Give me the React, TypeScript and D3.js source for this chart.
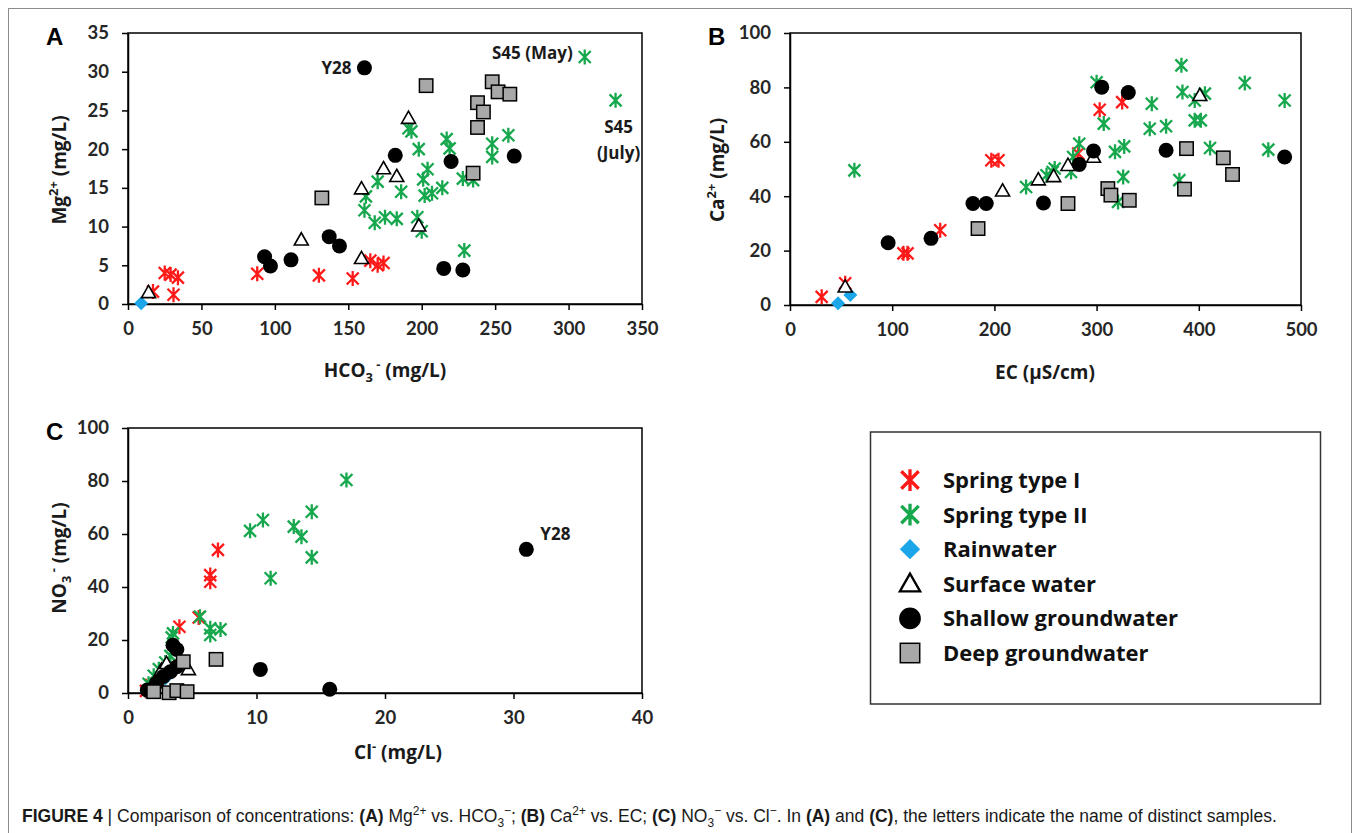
import React, { useEffect, useRef } from "react";
import * as d3 from "d3";

// ---- Panel A: HCO3- (x) vs Mg2+ (y), mg/L ----
const aSpringI = [[17, 1.6], [25, 4.0], [29, 3.8], [34, 3.4], [31, 1.2], [88, 3.9], [130, 3.7], [153, 3.3], [165, 5.6], [170, 5.0], [174, 5.3]];
const aSpringII = [[311, 31.9], [332, 26.3], [191, 22.7], [193, 22.3], [198, 20.0], [217, 21.3], [219, 20.1], [248, 20.7], [248, 19.0], [259, 21.8], [204, 17.4], [201, 16.1], [202, 14.0], [207, 14.3], [214, 15.0], [186, 14.5], [170, 15.8], [162, 13.9], [161, 12.1], [228, 16.2], [235, 16.0], [229, 6.9], [168, 10.5], [175, 11.2], [183, 11.0], [197, 11.2], [200, 9.4]];
const aRain = [[9, 0.1]];
const aSurface = [[14, 1.5], [118, 8.3], [159, 5.9], [159, 14.9], [174, 17.5], [183, 16.5], [191, 24.0], [198, 10.1]];
const aShallow = [[161, 30.5], [93, 6.1], [97, 4.9], [111, 5.7], [137, 8.7], [144, 7.5], [182, 19.2], [220, 18.4], [263, 19.1], [215, 4.6], [228, 4.4]];
const aDeep = [[132, 13.7], [203, 28.2], [248, 28.7], [252, 27.4], [260, 27.1], [238, 26.0], [242, 24.8], [238, 22.8], [235, 16.9]];

// ---- Panel B: EC (x) vs Ca2+ (y) ----
const bSpringI = [[31, 3.0], [54, 8.0], [111, 19.0], [115, 19.0], [147, 27.5], [197, 53.2], [204, 53.2], [282, 55.7], [303, 71.8], [325, 74.6]];
const bSpringII = [[63, 49.5], [231, 43.4], [251, 47.7], [257, 48.9], [259, 50.2], [275, 48.9], [277, 54.4], [283, 59.3], [300, 81.9], [307, 66.7], [318, 56.3], [327, 58.3], [321, 37.9], [326, 47.1], [354, 74.0], [352, 64.8], [368, 65.7], [383, 88.1], [384, 78.3], [396, 75.2], [406, 77.7], [396, 67.9], [402, 67.9], [445, 81.6], [484, 75.2], [411, 57.7], [468, 57.1], [381, 45.9]];
const bRain = [[47, 0.6], [59, 3.7]];
const bSurface = [[54, 6.7], [208, 42.0], [243, 46.1], [258, 47.3], [272, 51.4], [297, 54.4], [401, 77.1]];
const bShallow = [[96, 22.9], [138, 24.5], [179, 37.3], [192, 37.3], [248, 37.5], [283, 51.7], [297, 56.6], [305, 80.1], [331, 78.1], [368, 56.9], [484, 54.4]];
const bDeep = [[184, 28.1], [272, 37.3], [311, 42.8], [314, 40.4], [332, 38.5], [388, 57.5], [424, 54.1], [433, 48.0], [386, 42.6]];

// ---- Panel C: Cl- (x) vs NO3- (y) ----
const cSpringI = [[7.0, 54.0], [6.4, 44.5], [6.4, 42.0], [4.0, 25.0], [5.5, 28.5], [1.4, 0.8], [1.8, 3.0]];
const cSpringII = [[17.0, 80.4], [10.5, 65.3], [9.5, 61.2], [12.9, 62.8], [13.5, 59.0], [14.3, 68.4], [14.3, 51.2], [11.1, 43.3], [5.6, 28.8], [6.4, 24.4], [7.2, 24.0], [6.4, 21.9], [3.5, 22.5], [1.6, 3.5], [2.0, 6.5], [2.4, 9.0], [2.9, 11.5], [3.3, 14.0], [3.4, 21.0]];
const cRain = [[1.5, 0.3], [2.9, 5.5]];
const cSurface = [[2.2, 5.0], [2.6, 8.7], [3.0, 11.2], [4.7, 8.9]];
const cShallow = [[31.0, 54.2], [3.5, 18.0], [3.8, 16.4], [10.3, 8.9], [15.7, 1.4], [1.5, 1.1], [2.2, 3.7], [2.75, 6.2], [3.3, 8.0], [3.8, 9.9]];
const cDeep = [[4.3, 11.8], [6.85, 12.7], [2.0, 0.5], [3.2, 0.1], [3.8, 0.9], [4.6, 0.5]];

const seriesNames = ["Spring type I", "Spring type II", "Rainwater", "Surface water", "Shallow groundwater", "Deep groundwater"];

const FONT = "Lato, 'Open Sans', sans-serif";
const TFONT = "'Open Sans', Lato, sans-serif";

const App = () => {
  const ref = useRef<SVGSVGElement>(null);

  useEffect(() => {
    const svg = d3.select(ref.current);
    svg.selectAll("*").remove();

    const kinds = ["star", "star", "diamond", "triangle", "circle", "square"];
    const colors = ["#ff1a1a", "#17a84e", "#1aa6e8", "#ffffff", "#000000", "#a8a8a8"];

    const marker = (g, kind, color, cx, cy, s) => {
      if (kind === "star") {
        const a = 6 * s, h = 7.5 * s;
        g.append("path")
          .attr("d", `M${cx},${cy - h}V${cy + h}M${cx - a},${cy - a}L${cx + a},${cy + a}M${cx - a},${cy + a}L${cx + a},${cy - a}`)
          .attr("stroke", color).attr("stroke-width", 2.3 * s).attr("fill", "none");
      } else if (kind === "diamond") {
        const r = 7 * s;
        g.append("path").attr("d", `M${cx},${cy - r}L${cx + r},${cy}L${cx},${cy + r}L${cx - r},${cy}Z`).attr("fill", color);
      } else if (kind === "triangle") {
        const r = 7 * s;
        g.append("path").attr("d", `M${cx},${cy - r}L${cx + r},${cy + 0.75 * r}L${cx - r},${cy + 0.75 * r}Z`)
          .attr("fill", "#fff").attr("stroke", "#000").attr("stroke-width", 1.6 * s);
      } else if (kind === "circle") {
        g.append("circle").attr("cx", cx).attr("cy", cy).attr("r", 7.5 * s).attr("fill", color);
      } else {
        const r = 6.7 * s;
        g.append("rect").attr("x", cx - r).attr("y", cy - r).attr("width", 2 * r).attr("height", 2 * r)
          .attr("fill", color).attr("stroke", "#000").attr("stroke-width", 1.5);
      }
    };

    // text with sub/superscripts
    const rich = (parent, segs, x, y, size, weight, family) => {
      const t = parent.append("text").attr("x", x).attr("y", y).attr("font-size", size)
        .attr("font-family", family).attr("font-weight", weight).attr("fill", "#1a1a1a")
        .style("white-space", "pre");
      let cur = 0;
      segs.forEach((s) => {
        const target = s.sup ? -0.4 * size : s.sub ? 0.25 * size : 0;
        const sp = t.append("tspan").text(s.t).attr("dy", target - cur);
        if (s.sup || s.sub) sp.attr("font-size", size * 0.68);
        if (s.b) sp.attr("font-weight", "bold");
        cur = target;
      });
      return t;
    };

    // outer figure frame
    svg.append("rect").attr("x", 8.5).attr("y", 8.5).attr("width", 1343).attr("height", 860)
      .attr("fill", "none").attr("stroke", "#8c8c8c").attr("stroke-width", 1);

    const panels = [
      { label: "A", left: 128, right: 642, top: 33, bottom: 304, xMax: 350, xStep: 50, yMax: 35, yStep: 5,
        series: [aSpringI, aSpringII, aRain, aSurface, aShallow, aDeep],
        xTitle: [{ t: "HCO" }, { t: "3", sub: true }, { t: " -", sup: true }, { t: " (mg/L)" }], xTitleX: 385, xTitleY: 377,
        yTitle: [{ t: "Mg" }, { t: "2+", sup: true }, { t: " (mg/L)" }], yTitleX: 66, yTitleY: 170 },
      { label: "B", left: 790, right: 1301, top: 33, bottom: 305, xMax: 500, xStep: 100, yMax: 100, yStep: 20,
        series: [bSpringI, bSpringII, bRain, bSurface, bShallow, bDeep],
        xTitle: [{ t: "EC (µS/cm)" }], xTitleX: 1045, xTitleY: 379,
        yTitle: [{ t: "Ca" }, { t: "2+", sup: true }, { t: " (mg/L)" }], yTitleX: 724, yTitleY: 170 },
      { label: "C", left: 128, right: 642, top: 428, bottom: 693, xMax: 40, xStep: 10, yMax: 100, yStep: 20,
        series: [cSpringI, cSpringII, cRain, cSurface, cShallow, cDeep],
        xTitle: [{ t: "Cl" }, { t: "-", sup: true }, { t: " (mg/L)" }], xTitleX: 398, xTitleY: 759,
        yTitle: [{ t: "NO" }, { t: "3", sub: true }, { t: " -", sup: true }, { t: " (mg/L)" }], yTitleX: 66, yTitleY: 558 },
    ];

    const scales = panels.map((p) => {
      const x = d3.scaleLinear().domain([0, p.xMax]).range([p.left, p.right]);
      const y = d3.scaleLinear().domain([0, p.yMax]).range([p.bottom, p.top]);

      svg.append("rect").attr("x", p.left).attr("y", p.top).attr("width", p.right - p.left).attr("height", p.bottom - p.top)
        .attr("fill", "none").attr("stroke", "#000").attr("stroke-width", 1.5);

      const xAxis = svg.append("g").attr("transform", `translate(0,${p.bottom})`)
        .call(d3.axisBottom(x).tickValues(d3.range(0, p.xMax + 1e-9, p.xStep)).tickSize(6).tickSizeOuter(0).tickPadding(12));
      const yAxis = svg.append("g").attr("transform", `translate(${p.left},0)`)
        .call(d3.axisLeft(y).tickValues(d3.range(0, p.yMax + 1e-9, p.yStep)).tickSize(6).tickSizeOuter(0).tickPadding(13));
      [xAxis, yAxis].forEach((a) => {
        a.select(".domain").attr("stroke", "#000").attr("stroke-width", 1.5);
        a.selectAll(".tick line").attr("stroke", "#000").attr("stroke-width", 1.5);
        a.selectAll(".tick text").attr("font-family", FONT).attr("font-size", 18.5).attr("font-weight", "bold").attr("fill", "#262626");
      });

      svg.append("text").attr("x", p.left - 82).attr("y", p.top + 12).attr("font-family", "Liberation Sans, Arial, sans-serif")
        .attr("font-size", 24).attr("font-weight", "bold").attr("fill", "#000").text(p.label);

      rich(svg, p.xTitle, p.xTitleX, p.xTitleY, 19, "bold", TFONT).attr("text-anchor", "middle");
      rich(svg, p.yTitle, 0, 0, 19, "bold", TFONT).attr("text-anchor", "middle")
        .attr("transform", `translate(${p.yTitleX},${p.yTitleY}) rotate(-90)`);

      const g = svg.append("g");
      p.series.forEach((data, i) => {
        data.forEach(([vx, vy]) => marker(g, kinds[i], colors[i], x(vx), y(vy), 1));
      });
      return { x, y };
    });

    // sample annotations
    const note = (txt, px, py, anchor = "start") =>
      svg.append("text").attr("x", px).attr("y", py).attr("font-family", TFONT).attr("font-size", 17)
        .attr("font-weight", "bold").attr("fill", "#1a1a1a").attr("text-anchor", anchor).text(txt);
    const sA = scales[0], sC = scales[2];
    note("Y28", sA.x(161) - 13, sA.y(30.5) + 6, "end");
    note("S45 (May)", sA.x(311) - 12, sA.y(31.9) + 2, "end");
    note("S45", sA.x(332) + 3, sA.y(26.3) + 33, "middle");
    note("(July)", sA.x(332) + 3, sA.y(26.3) + 59, "middle");
    note("Y28", sC.x(31) + 14, sC.y(54.2) - 9);

    // legend
    svg.append("rect").attr("x", 870.5).attr("y", 432).attr("width", 450).attr("height", 272)
      .attr("fill", "#fff").attr("stroke", "#333").attr("stroke-width", 1.5);
    const lg = svg.append("g");
    seriesNames.forEach((name, i) => {
      const cy = 480 + i * 34.6;
      marker(lg, kinds[i], colors[i], 910, cy, 1.45);
      lg.append("text").attr("x", 943).attr("y", cy + 8).attr("font-family", TFONT).attr("font-size", 22)
        .attr("font-weight", "bold").attr("fill", "#111").text(name);
    });

    // caption
    const cap = rich(svg, [
      { t: "FIGURE 4", b: true }, { t: " | Comparison of concentrations: " }, { t: "(A)", b: true }, { t: " Mg" }, { t: "2+", sup: true },
      { t: " vs. HCO" }, { t: "3", sub: true }, { t: "−", sup: true }, { t: "; " }, { t: "(B)", b: true }, { t: " Ca" }, { t: "2+", sup: true },
      { t: " vs. EC; " }, { t: "(C)", b: true }, { t: " NO" }, { t: "3", sub: true }, { t: "−", sup: true }, { t: " vs. Cl" }, { t: "−", sup: true },
      { t: ". In " }, { t: "(A)", b: true }, { t: " and " }, { t: "(C)", b: true }, { t: ", the letters indicate the name of distinct samples." },
    ], 0, 0, 18.5, "normal", "Liberation Sans, Arial, sans-serif");
    const w = (cap.node() as SVGTextElement).getComputedTextLength();
    cap.attr("transform", `translate(22,822) scale(${1256 / w},1)`);
  }, []);

  return (
    <svg ref={ref} width={1356} height={833}
      style={{ position: "absolute", left: 0, top: 0, background: "#fff" }} />
  );
};

export default App;
